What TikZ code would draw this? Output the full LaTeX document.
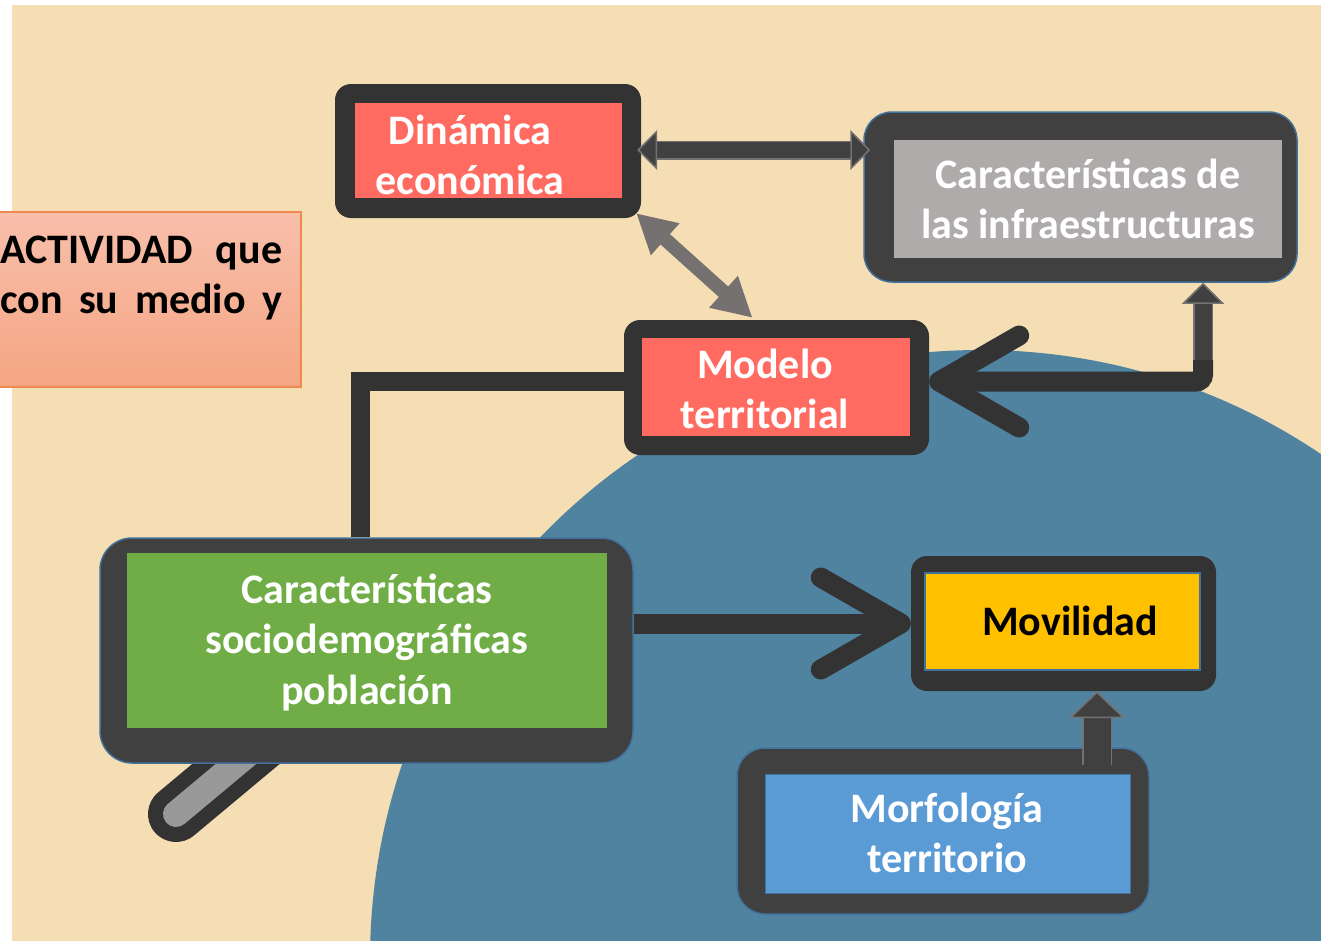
\documentclass[tikz,border=0pt]{standalone}
\usepackage{fontspec}
\setmainfont{Carlito}
\usepackage{tikz}
\usetikzlibrary{arrows.meta}

\definecolor{wheatbg}{HTML}{F5DEB3}
\definecolor{seablue}{HTML}{5083A0}
\definecolor{darkline}{HTML}{333333}
\definecolor{darkframe}{HTML}{404040}
\definecolor{edgeblue}{HTML}{41719C}
\definecolor{coral}{HTML}{FF6B61}
\definecolor{stone}{HTML}{AFABAB}
\definecolor{leaf}{HTML}{70AD47}
\definecolor{amber}{HTML}{FFC000}
\definecolor{sky}{HTML}{5B9BD5}
\definecolor{arrowgray}{HTML}{767171}
\definecolor{handlegray}{HTML}{999999}
\definecolor{salmontop}{HTML}{F8BFAB}
\definecolor{salmonbot}{HTML}{F5A583}
\definecolor{salmonedge}{HTML}{F0894F}

\newcommand{\boxtext}[1]{\begin{tabular}[t]{@{}c@{}}#1\end{tabular}}

\begin{document}
\begin{tikzpicture}[x=1pt, y=-1pt,
  frame/.style={fill=darkline, rounded corners=16pt, inner sep=0pt},
  bframe/.style={fill=darkframe, draw=edgeblue, line width=1.5pt, rounded corners=28pt, inner sep=0pt},
  panel/.style={inner sep=0pt},
  lbl/.style={font=\bfseries\fontsize{42}{50.5}\selectfont, text=white, inner sep=0pt, anchor=base},
  barbline/.style={draw=darkline, line width=20pt, -{Straight Barb[length=80pt,width=92pt,round]}},
  blockarrow/.style n args={3}{draw=darkframe, line width=#1,
    preaction={draw=arrowgray, arrows=-, line width=#1+3pt, shorten >=#3-2pt},
    -{Triangle[width=#2,length=#3,fill=darkframe,color=arrowgray,line width=1.5pt]}},
  dblock/.style={draw=darkframe, line width=16pt,
    preaction={draw=arrowgray, arrows=-, line width=19pt, shorten <=18pt, shorten >=18pt},
    {Triangle[width=40pt,length=20pt,fill=darkframe,color=arrowgray,line width=1.5pt]}-{Triangle[width=40pt,length=20pt,fill=darkframe,color=arrowgray,line width=1.5pt]}},
  gblock/.style={draw=arrowgray, line width=14pt, {Triangle[width=40pt,length=39pt]}-{Triangle[width=40pt,length=39pt]}}]

\useasboundingbox (0,0) rectangle (1321,940);
\clip (0,0) rectangle (1321,940);

\fill[wheatbg] (12,5) rectangle (1330,950);
\fill[seablue] (980,960) circle (610pt);

\draw[darkline, line width=56pt, line cap=round] (176,814) -- (291,718);
\draw[handlegray, line width=26pt, line cap=round] (176,814) -- (291,718);

\node[draw=salmonedge, line width=1.5pt, top color=salmontop, bottom color=salmonbot, minimum width=321pt, minimum height=175pt, inner sep=0pt](ACT) at (140.5,299.5){};
\node[lbl, text=black, anchor=base west](ACTt) at (0,263){\begin{tabular}[t]{@{}l@{}}\makebox[282pt][s]{ACTIVIDAD que}\\\makebox[282pt][s]{con su medio y}\end{tabular}};

\node[frame, minimum width=306pt, minimum height=134pt](DE) at (488,151){};
\node[panel, fill=coral, minimum width=267pt, minimum height=95pt](DEp) at (488.5,150.5){};
\node[lbl](DEt) at (470,144){\boxtext{Dinámica\\económica}};

\node[bframe, minimum width=433pt, minimum height=170pt](CI) at (1080.5,197){};
\node[panel, fill=stone, minimum width=388pt, minimum height=118pt](CIp) at (1088,199){};
\node[lbl](CIt) at (1088,188){\boxtext{Características de\\las infraestructuras}};

\node[frame, minimum width=305pt, minimum height=135pt](MT) at (776.5,387.5){};
\node[panel, fill=coral, minimum width=268pt, minimum height=98pt](MTp) at (776,387){};
\node[lbl](MTt) at (765,378){\boxtext{Modelo\\territorial}};

\node[bframe, rounded corners=32pt, minimum width=533pt, minimum height=225pt](CS) at (366.5,650.5){};
\node[panel, fill=leaf, minimum width=480pt, minimum height=175pt](CSp) at (367,640.5){};
\node[lbl](CSt) at (367,603){\boxtext{Características\\sociodemográficas\\población}};

\node[frame, minimum width=305pt, minimum height=135pt](MV) at (1063.5,623.5){};
\node[panel, fill=amber, draw=edgeblue, line width=1.5pt, minimum width=275pt, minimum height=97pt](MVp) at (1062.5,621.5){};
\node[lbl, text=black](MVt) at (1070,635){Movilidad};

\node[bframe, minimum width=412pt, minimum height=166pt](MF) at (943,831){};
\node[panel, fill=sky, draw=edgeblue, line width=1pt, minimum width=365pt, minimum height=119pt](MFp) at (947.5,833.5){};
\node[lbl](MFt) at (947,822){\boxtext{Morfología\\territorio}};

\coordinate(EL) at (1203,360);
\coordinate(MB) at (1097,765);

\draw[dblock] ([xshift=-4pt,yshift=1pt]DE.east) -- ([xshift=7pt,yshift=1pt]CI.west |- DE.east);
\draw[gblock] ([xshift=-5pt,yshift=5pt]DE.south east) -- ([xshift=-24pt,yshift=2pt]MT.north);

\draw[darkline, line width=19pt] ([yshift=6pt]MT.west) -| ([xshift=-6pt]CS.north);
\draw[barbline, rounded corners=7pt] (EL) |- ([yshift=6pt]MT.east);
\draw[blockarrow={17pt}{42pt}{21pt}] (EL) -- (EL |- CI.south);

\draw[barbline] (CS.east |- MV.west) -- (MV.west);
\draw[blockarrow={27pt}{56pt}{27pt}] (MB) -- (MB |- MV.south);
\end{tikzpicture}
\end{document}
